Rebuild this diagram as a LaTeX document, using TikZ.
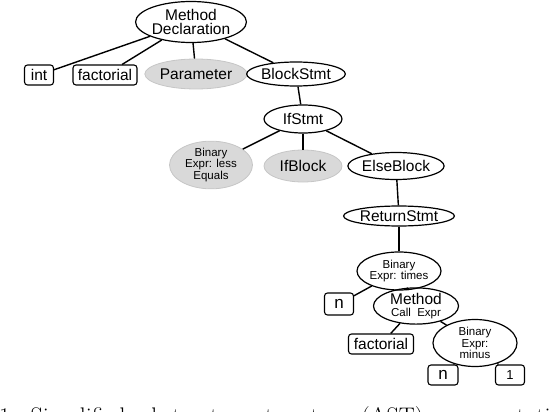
\documentclass[tikz,border=0pt]{standalone}
\usepackage{fontspec}
\newfontfamily\treefont{Liberation Sans}
\usetikzlibrary{shapes.geometric}

\begin{document}
\begin{tikzpicture}[
  x=1pt, y=-1pt,
  leaf/.style={rectangle, draw, rounded corners=3pt, line width=1.1pt, inner sep=0pt, minimum height=20pt, font=\treefont\fontsize{15.5}{15.5}\selectfont},
  inner/.style={ellipse, draw, line width=1.2pt, inner sep=0pt, align=center, font=\treefont\fontsize{15.5}{14}\selectfont},
  small/.style={font=\treefont\fontsize{11.5}{11.5}\selectfont},
  shaded/.style={fill=gray!30, draw=gray!45, line width=0.8pt},
  edge/.style={line width=1.4pt}
]
  \useasboundingbox (0,0) rectangle (560,412);

  % Root and its children
  \node[inner, minimum width=88pt, minimum height=41pt] (decl) at (191,22) {Method\\Declaration};
  \node[leaf, minimum width=29pt] (int) at (39,75) {int};
  \node[leaf, minimum width=64pt] (fact) at (105,75) {factorial};
  \node[inner, shaded, minimum width=78pt, minimum height=30pt] (param) at (196,74) {Parameter};
  \node[inner, minimum width=78pt, minimum height=24pt] (block) at (296,74) {BlockStmt};

  % If statement
  \node[inner, minimum width=78pt, minimum height=28pt] (ifst) at (303,119) {IfStmt};
  \node[inner, shaded, small, minimum width=83pt, minimum height=40pt] (cond) at (211,165) {Binary\\Expr: less\\Equals};
  \node[inner, shaded, minimum width=78pt, minimum height=32pt] (ifblk) at (303,166) {IfBlock};
  \node[inner, minimum width=80pt, minimum height=27pt] (elseblk) at (396,166) {ElseBlock};

  % Else branch
  \node[inner, minimum width=84pt, minimum height=20pt] (ret) at (399,216) {ReturnStmt};
  \node[inner, small, minimum width=84pt, minimum height=38pt] (times) at (399,271) {Binary\\Expr: times};
  \node[leaf, minimum width=29pt, minimum height=22pt, font=\treefont\fontsize{17}{17}\selectfont] (n) at (339,304) {n};
  \node[inner, minimum width=85pt, minimum height=34pt] (call) at (416,306) {Method\\[-2pt]{\treefont\fontsize{11.5}{11.5}\selectfont Call\ \ Expr}};
  \node[leaf, minimum width=65pt] (fact2) at (381,344) {factorial};
  \node[inner, small, minimum width=84pt, minimum height=47pt] (minus) at (475,343) {Binary\\Expr:\\minus};
  \node[leaf, minimum width=30pt, font=\treefont\fontsize{17}{17}\selectfont] (n2) at (443,375) {n};
  \node[leaf, minimum width=29pt, font=\treefont\fontsize{13}{13}\selectfont] (one) at (510,375) {1};

  % Edges
  \draw[edge] (decl) -- (int);
  \draw[edge] (decl) -- (fact);
  \draw[edge] (decl) -- (param);
  \draw[edge] (decl) -- (block);
  \draw[edge] (block) -- (ifst);
  \draw[edge] (ifst) -- (cond);
  \draw[edge] (ifst) -- (ifblk);
  \draw[edge] (ifst) -- (elseblk);
  \draw[edge] (elseblk) -- (ret);
  \draw[edge] (ret) -- (times);
  \draw[edge] (times) -- (n);
  \draw[edge] (times) -- (call);
  \draw[edge] (call) -- (fact2);
  \draw[edge] (call) -- (minus);
  \draw[edge] (minus) -- (n2);
  \draw[edge] (minus) -- (one);

  % Caption (cut off at the bottom)
  \node[anchor=base west, inner sep=0pt, font=\fontsize{24}{24}\selectfont] (caption) at (-1,424) {1:\ \ Simplified\ \ abstract\ \ syntax\ \ tree\ \ (AST)\ \ representation};
\end{tikzpicture}
\end{document}
